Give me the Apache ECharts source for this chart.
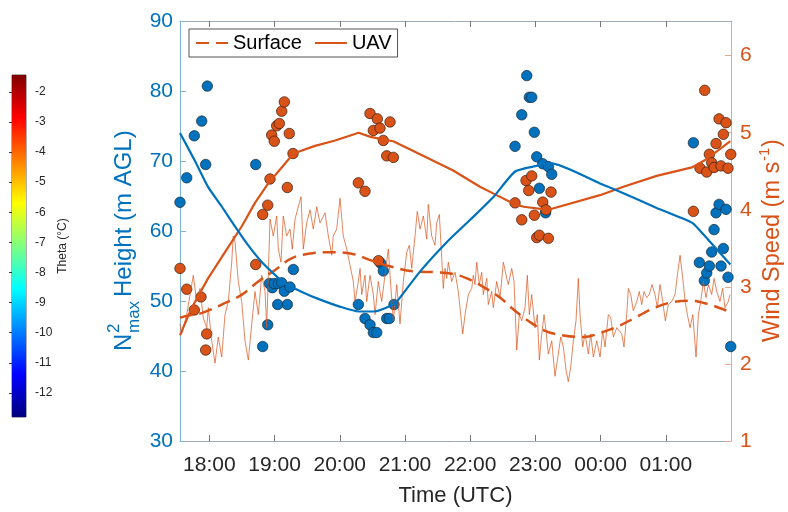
<!DOCTYPE html>
<html><head><meta charset="utf-8">
<script src="https://cdn.jsdelivr.net/npm/echarts@6.0.0/dist/echarts.min.js"></script>
<style>html,body{margin:0;padding:0;background:#fff}#c{width:788px;height:512px}</style>
</head><body><div id="c"></div>
<script>
// ---- axis ticks / labels ----
const timeTicks = [18, 19, 20, 21, 22, 23, 24, 25];
const timeLabels = ['18:00', '19:00', '20:00', '21:00', '22:00', '23:00', '00:00', '01:00'];
const heightTicks = [30, 40, 50, 60, 70, 80, 90];
const windTicks = [1, 2, 3, 4, 5, 6];
const thetaTicks = [-12, -11, -10, -9, -8, -7, -6, -5, -4, -3, -2];
const thetaRange = [-12.8, -1.44];

// ---- data: [time in hours (24 = 00:00), value] ----
const n2Line = [[17.55,74.0],[17.78,70.0],[17.98,66.3],[18.19,63.5],[18.39,60.7],[18.6,57.9],[18.8,55.6],[19.01,53.7],[19.16,52.5],[19.42,51.3],[19.67,50.3],[20.0,49.2],[20.29,48.5],[20.52,48.5],[20.82,49.5],[20.9,50.2],[21.23,54.2],[21.64,58.4],[22.0,61.6],[22.36,64.9],[22.69,68.5],[23.02,69.3],[23.23,69.7],[23.99,66.8],[24.35,65.4],[24.86,63.3],[25.4,61.2],[25.53,60.0],[25.78,57.4],[25.99,55.2]];

const n2Points = [[17.55,64.1],[17.653,67.6],[17.769,73.6],[17.883,75.7],[17.944,69.5],[17.969,80.7],[18.711,69.5],[18.818,43.5],[18.895,46.6],[18.92,52.5],[18.966,51.9],[18.992,52.5],[19.058,52.5],[19.048,49.5],[19.11,52.6],[19.15,51.4],[19.196,49.5],[19.237,52.0],[19.288,54.5],[20.285,49.5],[20.387,47.5],[20.464,46.6],[20.515,45.5],[20.567,45.5],[20.628,55.4],[20.668,54.3],[20.72,47.5],[20.76,47.5],[20.832,49.5],[22.688,72.1],[22.791,76.6],[22.868,82.2],[22.907,79.1],[22.944,79.1],[22.984,74.1],[23.021,70.6],[23.061,66.1],[23.113,69.6],[23.156,62.6],[23.199,69.2],[23.251,68.1],[25.423,72.6],[25.515,55.5],[25.591,52.9],[25.628,54.0],[25.668,55.0],[25.704,57.0],[25.74,60.2],[25.771,62.6],[25.817,63.8],[25.847,55.0],[25.883,57.5],[25.924,63.1],[25.954,53.4],[25.996,43.5]];

const uavLine = [[17.55,2.37],[17.73,2.73],[17.98,3.11],[18.24,3.45],[18.5,3.79],[18.7,4.09],[18.9,4.34],[19.11,4.55],[19.29,4.73],[19.62,4.83],[19.93,4.90],[20.29,5.0],[20.46,4.95],[20.67,4.91],[20.82,4.89],[21.23,4.72],[21.74,4.51],[22.15,4.30],[22.36,4.21],[22.69,4.07],[22.82,4.04],[23.2,4.0],[23.99,4.19],[24.35,4.30],[24.86,4.44],[25.4,4.55],[25.63,4.66],[25.99,4.89]];

const uavPoints = [[17.55,3.24],[17.653,2.97],[17.769,2.70],[17.872,2.87],[17.96,2.39],[17.944,2.18],[18.711,3.29],[18.818,3.94],[18.895,4.06],[18.93,4.40],[18.956,4.97],[18.996,4.89],[19.033,5.09],[19.073,5.12],[19.11,5.28],[19.15,5.40],[19.196,4.29],[19.226,4.99],[19.283,4.73],[20.285,4.35],[20.387,4.24],[20.464,5.25],[20.515,5.03],[20.576,5.18],[20.594,3.34],[20.617,5.06],[20.668,4.90],[20.72,4.70],[20.771,5.14],[20.822,4.68],[22.688,4.09],[22.791,3.87],[22.857,4.38],[22.898,4.25],[22.944,4.44],[22.984,3.93],[23.021,3.64],[23.061,3.67],[23.113,4.10],[23.163,4.00],[23.199,3.63],[23.24,4.23],[25.423,3.98],[25.525,4.54],[25.597,5.55],[25.628,4.49],[25.668,4.72],[25.704,4.61],[25.74,4.55],[25.771,4.86],[25.817,5.18],[25.847,4.57],[25.883,4.98],[25.924,5.13],[25.954,4.54],[25.996,4.72]];

const surfaceSmooth = [[17.55,2.6],[17.63,2.62],[17.88,2.66],[18.19,2.77],[18.5,2.9],[18.75,3.07],[19.01,3.22],[19.26,3.37],[19.52,3.43],[19.83,3.45],[20.18,3.43],[20.49,3.34],[20.8,3.26],[21.15,3.2],[21.46,3.19],[21.72,3.17],[21.95,3.11],[22.2,3.0],[22.46,2.86],[22.66,2.71],[22.89,2.56],[23.15,2.43],[23.43,2.37],[23.74,2.35],[24.02,2.41],[24.27,2.49],[24.53,2.6],[24.78,2.71],[25.04,2.79],[25.35,2.82],[25.63,2.78],[25.94,2.69],[26.0,2.67]];

const surfaceRaw = [[17.55,2.52],[17.576,2.39],[17.653,2.64],[17.754,3.15],[17.806,2.81],[17.857,2.98],[17.907,2.60],[17.96,2.47],[17.984,2.73],[18.036,2.30],[18.087,2.01],[18.137,2.35],[18.19,2.09],[18.24,2.64],[18.291,2.81],[18.343,3.32],[18.367,3.66],[18.394,3.58],[18.444,3.07],[18.496,2.81],[18.547,2.30],[18.598,2.05],[18.65,2.52],[18.70,2.94],[18.751,2.64],[18.803,3.15],[18.854,2.94],[18.88,2.47],[18.93,3.88],[18.981,3.66],[19.033,3.92],[19.058,3.49],[19.099,3.32],[19.134,3.92],[19.186,3.66],[19.237,3.75],[19.272,3.49],[19.314,3.88],[19.406,4.17],[19.441,3.49],[19.493,3.83],[19.544,4.0],[19.594,3.75],[19.647,4.04],[19.697,3.83],[19.774,3.96],[19.825,3.66],[19.877,3.41],[19.901,3.66],[19.953,3.75],[20.004,4.15],[20.054,3.66],[20.107,3.49],[20.157,3.28],[20.208,3.07],[20.234,2.81],[20.285,3.07],[20.311,3.24],[20.337,2.90],[20.387,3.15],[20.413,2.81],[20.464,3.15],[20.515,2.90],[20.541,2.64],[20.591,3.07],[20.643,2.81],[20.694,3.15],[20.745,3.49],[20.771,3.15],[20.822,2.56],[20.874,3.03],[20.924,2.52],[20.975,3.07],[21.027,3.45],[21.067,3.54],[21.104,3.24],[21.154,3.66],[21.189,3.98],[21.231,3.75],[21.282,3.92],[21.334,3.62],[21.358,4.07],[21.41,3.66],[21.461,3.54],[21.487,3.83],[21.527,3.94],[21.564,3.37],[21.588,2.98],[21.614,3.24],[21.64,3.11],[21.665,3.32],[21.717,3.07],[21.768,3.19],[21.818,2.94],[21.844,2.73],[21.886,2.39],[21.921,2.64],[21.972,2.90],[22.024,2.98],[22.048,3.15],[22.074,3.03],[22.10,3.32],[22.14,3.03],[22.177,3.19],[22.202,2.90],[22.254,3.11],[22.278,2.77],[22.33,2.94],[22.355,2.73],[22.407,3.07],[22.458,2.86],[22.509,3.32],[22.561,3.11],[22.585,3.03],[22.637,3.24],[22.673,3.07],[22.714,2.18],[22.754,2.64],[22.791,2.56],[22.841,2.73],[22.877,3.15],[22.907,2.64],[22.944,2.90],[22.994,2.47],[23.03,2.64],[23.061,2.05],[23.098,2.39],[23.133,2.64],[23.163,2.43],[23.199,2.13],[23.251,2.30],[23.301,1.84],[23.352,2.13],[23.389,2.35],[23.429,2.22],[23.47,1.92],[23.505,1.77],[23.542,1.96],[23.582,2.30],[23.623,2.56],[23.659,3.11],[23.685,2.64],[23.726,2.22],[23.761,2.39],[23.812,2.13],[23.849,2.39],[23.889,2.09],[23.941,2.30],[23.992,2.09],[24.033,2.43],[24.068,2.22],[24.119,2.64],[24.156,2.60],[24.196,2.35],[24.248,2.47],[24.324,2.39],[24.359,2.22],[24.401,2.64],[24.426,2.98],[24.462,2.90],[24.502,2.69],[24.554,2.81],[24.594,2.94],[24.63,2.77],[24.666,2.94],[24.707,2.86],[24.747,2.90],[24.789,3.03],[24.835,2.90],[24.87,2.73],[24.911,3.03],[24.953,2.81],[24.993,2.56],[25.039,2.77],[25.091,2.81],[25.142,2.90],[25.177,3.15],[25.219,3.41],[25.26,3.11],[25.296,2.81],[25.331,2.64],[25.372,2.47],[25.414,2.64],[25.464,2.09],[25.50,2.64],[25.536,2.81],[25.576,3.07],[25.617,2.86],[25.653,3.03],[25.704,2.90],[25.74,3.11],[25.781,2.94],[25.831,2.81],[25.872,2.98],[25.907,2.73],[25.959,2.81],[25.985,2.90]];

// ---- styling ----
const FONT = '"Liberation Sans", Arial, Helvetica, sans-serif';
const BLUE = '#0072BD';
const ORANGE = '#D95319';
const TXT = '#262626';
const jetStops = [
  {offset: 0, color: '#800000'}, {offset: 0.125, color: '#FF0000'},
  {offset: 0.375, color: '#FFFF00'}, {offset: 0.625, color: '#00FFFF'},
  {offset: 0.875, color: '#0000FF'}, {offset: 1, color: '#000080'}
];

const chart = echarts.init(document.getElementById('c'));
const option = {
  animation: false,
  textStyle: {fontFamily: FONT},
  grid: [
    {left: 180, right: 57, top: 21, bottom: 63},
    {left: 12, top: 75, width: 14, height: 342, show: true, borderColor: '#333', borderWidth: 0.8}
  ],
  legend: {
    data: ['Surface', 'UAV'],
    left: 189, top: 29,
    itemWidth: 32, itemHeight: 14, itemGap: 12,
    padding: [4, 6, 4, 6],
    borderColor: '#262626', borderWidth: 0.8, borderRadius: 0,
    backgroundColor: '#fff',
    itemStyle: {opacity: 0},
    textStyle: {fontSize: 20, color: '#000', fontFamily: FONT}
  },
  xAxis: [
    {
      gridIndex: 0, type: 'value', min: 17.55, max: 26, position: 'bottom',
      axisLine: {lineStyle: {color: '#a0aab4', width: 1}},
      axisTick: {inside: true, length: 6, customValues: timeTicks, lineStyle: {color: '#777'}},
      axisLabel: {customValues: timeTicks, formatter: v => timeLabels[timeTicks.indexOf(Math.round(v))], fontSize: 21, color: TXT, margin: 14},
      splitLine: {show: false},
      name: 'Time (UTC)', nameLocation: 'middle', nameGap: 44,
      nameTextStyle: {fontSize: 22, color: TXT}
    },
    {
      gridIndex: 0, type: 'value', min: 17.55, max: 26, position: 'top',
      axisLine: {lineStyle: {color: '#a0aab4', width: 1}},
      axisTick: {inside: true, length: 6, customValues: timeTicks, lineStyle: {color: '#777'}},
      axisLabel: {show: false}, splitLine: {show: false}
    },
    {gridIndex: 1, type: 'value', min: 0, max: 1, show: false}
  ],
  yAxis: [
    {
      gridIndex: 0, type: 'value', min: 30, max: 90, interval: 10, position: 'left',
      axisLine: {show: true, lineStyle: {color: '#7fb3da', width: 1}},
      axisTick: {show: true, inside: true, length: 6, lineStyle: {color: '#7fb3da'}},
      axisLabel: {fontSize: 21, color: BLUE, margin: 7},
      splitLine: {show: false}
    },
    {
      gridIndex: 0, type: 'value', min: 1, max: 6.45, position: 'right',
      axisLine: {show: true, lineStyle: {color: '#eaa98c', width: 1}},
      axisTick: {show: true, inside: true, length: 6, customValues: windTicks, lineStyle: {color: '#eaa98c'}},
      axisLabel: {customValues: windTicks, fontSize: 21, color: ORANGE, margin: 9},
      splitLine: {show: false}
    },
    {
      gridIndex: 1, type: 'value', min: thetaRange[0], max: thetaRange[1], position: 'right',
      axisLine: {show: false},
      axisTick: {show: true, inside: true, length: 3, customValues: thetaTicks, lineStyle: {color: '#333'}},
      axisLabel: {customValues: thetaTicks, fontSize: 12, color: TXT, margin: 9},
      splitLine: {show: false},
      name: 'Theta (°C)', nameLocation: 'middle', nameRotate: 90, nameGap: 31,
      nameTextStyle: {fontSize: 12, color: TXT}
    }
  ],
  series: [
    {
      name: 'Surface raw', type: 'line', xAxisIndex: 0, yAxisIndex: 1, data: surfaceRaw,
      symbol: 'none', silent: true,
      lineStyle: {color: ORANGE, width: 1, opacity: 0.7}
    },
    {
      name: 'Surface', type: 'line', xAxisIndex: 0, yAxisIndex: 1, data: surfaceSmooth,
      symbol: 'none', smooth: 0.4, color: ORANGE,
      lineStyle: {color: ORANGE, width: 2.5, type: [13, 7]}
    },
    {
      name: 'UAV', type: 'line', xAxisIndex: 0, yAxisIndex: 1, data: uavLine,
      symbol: 'none', color: ORANGE,
      lineStyle: {color: ORANGE, width: 2.2}
    },
    {
      name: 'N2max height', type: 'line', xAxisIndex: 0, yAxisIndex: 0, data: n2Line,
      symbol: 'none', smooth: 0.2,
      lineStyle: {color: BLUE, width: 2.2}
    },
    {
      name: 'N2max samples', type: 'scatter', xAxisIndex: 0, yAxisIndex: 0, data: n2Points,
      symbolSize: 10.5,
      itemStyle: {color: BLUE, borderColor: '#1b2a38', borderWidth: 0.7, opacity: 1}
    },
    {
      name: 'UAV samples', type: 'scatter', xAxisIndex: 0, yAxisIndex: 1, data: uavPoints,
      symbolSize: 10.5,
      itemStyle: {color: ORANGE, borderColor: '#3a1a0a', borderWidth: 0.7, opacity: 1}
    },
    {
      name: 'Theta colorbar', type: 'line', xAxisIndex: 2, yAxisIndex: 2,
      data: [[0, thetaRange[1]], [1, thetaRange[1]]],
      symbol: 'none', silent: true,
      lineStyle: {width: 0},
      areaStyle: {origin: 'start', opacity: 1, color: new echarts.graphic.LinearGradient(0, 0, 0, 1, jetStops)}
    }
  ],
  graphic: [
    {
      type: 'group', x: 124, y: 351, rotation: Math.PI / 2, silent: true,
      children: [
        {type: 'text', x: 0, y: 0, style: {text: 'N', fontSize: 24, fontFamily: FONT, fill: BLUE, verticalAlign: 'middle'}},
        {type: 'text', x: 18, y: -10, style: {text: '2', fontSize: 17, fontFamily: FONT, fill: BLUE, verticalAlign: 'middle'}},
        {type: 'text', x: 18, y: 10, style: {text: 'max', fontSize: 17, fontFamily: FONT, fill: BLUE, verticalAlign: 'middle'}},
        {type: 'text', x: 54, y: 0, style: {text: 'Height (m AGL)', fontSize: 24, fontFamily: FONT, fill: BLUE, verticalAlign: 'middle'}}
      ]
    },
    {
      type: 'group', x: 773, y: 342, rotation: Math.PI / 2, silent: true,
      children: [
        {type: 'text', x: 0, y: 0, style: {text: 'Wind Speed (m s', fontSize: 23.5, fontFamily: FONT, fill: ORANGE, verticalAlign: 'middle'}},
        {type: 'text', x: 181, y: -8, style: {text: '-1', fontSize: 15, fontFamily: FONT, fill: ORANGE, verticalAlign: 'middle'}},
        {type: 'text', x: 195, y: 0, style: {text: ')', fontSize: 23.5, fontFamily: FONT, fill: ORANGE, verticalAlign: 'middle'}}
      ]
    }
  ]
};
chart.setOption(option);
</script>
</body></html>
